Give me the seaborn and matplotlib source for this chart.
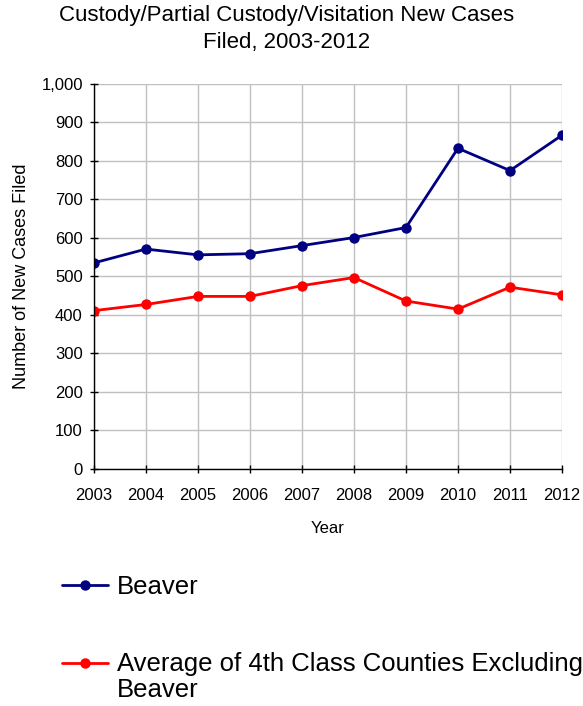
import matplotlib
matplotlib.use("Agg")
import matplotlib.pyplot as plt
from matplotlib.legend_handler import HandlerLine2D
import numpy as np
import pandas as pd
import seaborn as sns

years = [2003, 2004, 2005, 2006, 2007, 2008, 2009, 2010, 2011, 2012]
beaver = [535, 571, 556, 559, 580, 601, 627, 833, 775, 867]
fourth_class_avg = [411, 427, 448, 448, 476, 497, 436, 415, 472, 452]

series_names = ["Beaver", "Average of 4th Class Counties Excluding\nBeaver"]
series_colors = ["#000080", "#FF0000"]

df = pd.DataFrame({
    "Year": years * 2,
    "Cases": beaver + fourth_class_avg,
    "Series": [series_names[0]] * len(years) + [series_names[1]] * len(years),
})


class FirstLineHandler(HandlerLine2D):
    # keep the handle level with the first line of a two-line label
    def __init__(self, shift, **kw):
        super().__init__(**kw)
        self.shift = shift

    def create_artists(self, legend, orig_handle, xdescent, ydescent,
                       width, height, fontsize, trans):
        artists = super().create_artists(legend, orig_handle, xdescent, ydescent,
                                         width, height, fontsize, trans)
        for a in artists:
            a.set_ydata(np.asarray(a.get_ydata()) + self.shift)
        return artists


sns.set_theme(style="whitegrid")
plt.rcParams["font.family"] = ["Liberation Sans", "DejaVu Sans"]

fig = plt.figure(figsize=(5.83, 7.06), dpi=100)
ax = fig.add_axes([0.161, 0.336, 0.803, 0.545])

sns.lineplot(data=df, x="Year", y="Cases", hue="Series", palette=series_colors,
             marker="o", markersize=7.5, markeredgewidth=0, linewidth=2,
             ax=ax, legend=True)

ax.set_xlim(2003, 2012)
ax.set_ylim(0, 1000)
ax.set_xticks(years)
ax.set_yticks(np.arange(0, 1001, 100))
ax.set_yticklabels([f"{v:,}" for v in range(0, 1001, 100)])
ax.grid(True, color="#C0C0C0", linewidth=1)
for s in ["top", "right"]:
    ax.spines[s].set_visible(False)
for s in ["left", "bottom"]:
    ax.spines[s].set_color("black")
    ax.spines[s].set_linewidth(1)
ax.tick_params(axis="both", direction="inout", length=6, width=1, color="black",
               labelsize=12, labelcolor="black", bottom=True, left=True)
ax.tick_params(axis="x", pad=11)
ax.tick_params(axis="y", pad=5)
for lab in ax.get_xticklabels() + ax.get_yticklabels():
    lab.set_clip_on(False)
ax.set_xlabel("Year", fontsize=12, color="black", labelpad=13)
ax.set_ylabel("Number of New Cases Filed", fontsize=13, color="black", labelpad=8)

fig.text(0.492, 0.993, "Custody/Partial Custody/Visitation New Cases\nFiled, 2003-2012",
         ha="center", va="top", fontsize=16, color="black", linespacing=1.4)

handles, labels = ax.get_legend_handles_labels()
ax.get_legend().remove()
leg = fig.legend(handles, labels, loc="upper left", bbox_to_anchor=(0.066, 0.218),
                 frameon=False, fontsize=18.5, labelspacing=2.05, handlelength=1.8,
                 handletextpad=0.35,
                 handler_map={handles[1]: FirstLineHandler(shift=10)})
for t in leg.get_texts():
    t.set_color("black")
    t.set_linespacing(1.1)

fig.savefig("out.png", dpi=100)
